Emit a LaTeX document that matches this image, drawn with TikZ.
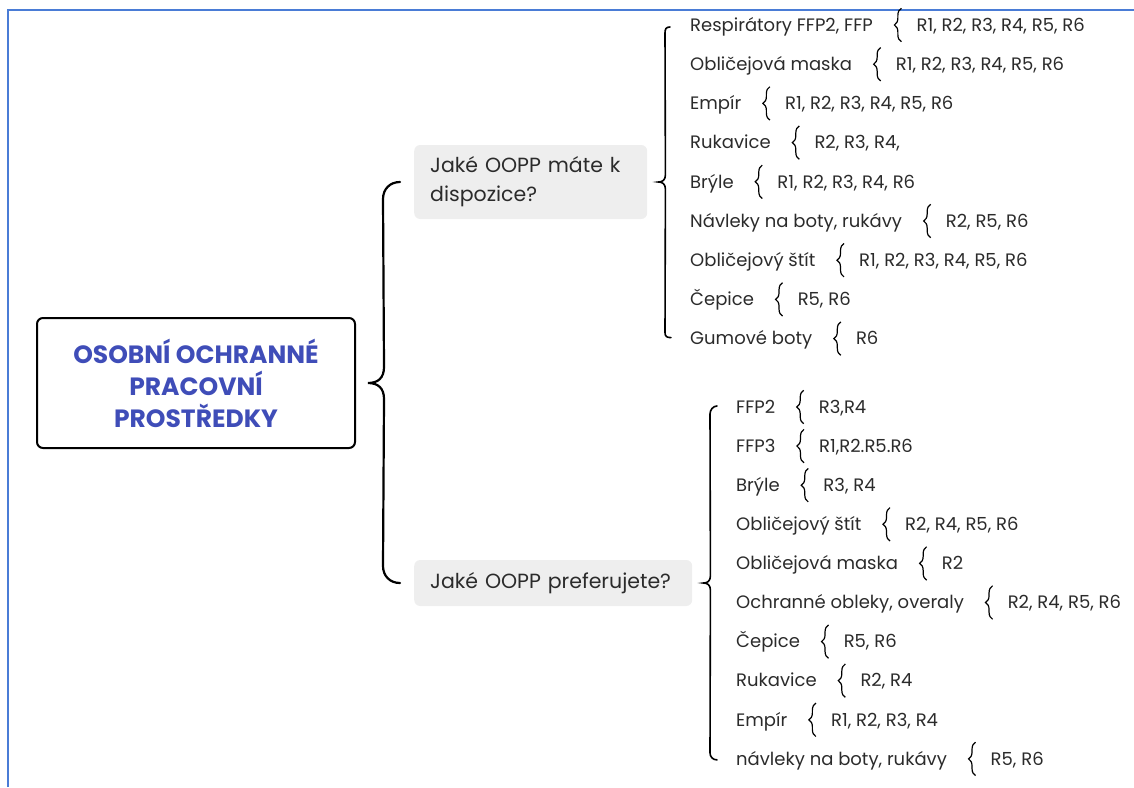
\documentclass[tikz,border=0pt]{standalone}
\usepackage{fontspec}
\setmainfont{Poppins}
\usetikzlibrary{positioning,decorations.pathreplacing}

\definecolor{frameblue}{HTML}{4A7CD6}
\definecolor{titleblue}{HTML}{3F4DB8}
\definecolor{ink}{HTML}{2B2B2B}
\definecolor{qgray}{HTML}{EEEEEE}

\tikzset{
  root/.style={draw=black, line width=2pt, rounded corners=6pt, minimum width=318pt,
    minimum height=130pt, align=center, text=titleblue, font=\fontsize{25}{32}\selectfont\bfseries},
  quest/.style={fill=qgray, rounded corners=6pt, anchor=west, inner xsep=16pt, inner ysep=0pt,
    align=left, text=ink, font=\fontsize{20.5}{29}\selectfont},
  item/.style={anchor=west, inner sep=0pt, text height=12.5pt, text depth=0pt, text=ink,
    font=\fontsize{18}{20}\selectfont},
  brc/.style={minimum width=8pt, minimum height=33pt, inner sep=0pt},
  sbrace/.style={decorate, decoration={brace, amplitude=7pt}, line width=1.2pt},
  link/.style={line width=2.2pt, line cap=round},
  sublink/.style={line width=1.6pt, line cap=round},
}

\begin{document}
\begin{tikzpicture}[x=1pt,y=-1pt]
  \useasboundingbox (0,0) rectangle (1134,787);
  \draw[frameblue, line width=2.5pt] (8,787) -- (8,10) -- (1134,10);

  \node[root] (root) at (196,383) {OSOBNÍ OCHRANNÉ\\PRACOVNÍ\\PROSTŘEDKY};
  \node[quest, text width=201pt, minimum height=74pt] (q1) at (414,182) {Jaké OOPP máte k\\dispozice?};
  \node[quest, text width=246pt, minimum height=46pt] (q2) at (414,583) {Jaké OOPP preferujete?};

  % big brace
  \coordinate (tip) at ([xshift=12pt]root.east);
  \draw[link] ([xshift=-14pt]q1.west) .. controls +(-10,0) and +(0,-10) .. ++(-17,17)
    -- ([shift={(16,-16)}]tip) .. controls +(0,11) and +(10,0) .. (tip)
    .. controls +(10,0) and +(0,-11) .. ([shift={(16,16)}]tip)
    -- ([shift={(-31,-17)}]q2.west) .. controls +(0,10) and +(-10,0) .. ([xshift=-14pt]q2.west);

  % what they have
  \foreach \txt/\val [count=\i] in {
    {Respirátory FFP2, FFP}/{R1, R2, R3, R4, R5, R6},
    {Obličejová maska}/{R1, R2, R3, R4, R5, R6},
    {Empír}/{R1, R2, R3, R4, R5, R6},
    {Rukavice}/{R2, R3, R4,},
    {Brýle}/{R1, R2, R3, R4, R6},
    {Návleky na boty, rukávy}/{R2, R5, R6},
    {Obličejový štít}/{R1, R2, R3, R4, R5, R6},
    {Čepice}/{R5, R6},
    {Gumové boty}/{R6}}{
    \node[item] (a\i) at (690,{25+39.2*(\i-1)}) {\txt};
    \node[brc, right=20pt of a\i] (ab\i) {};
    \draw[sbrace] (ab\i.south east) -- (ab\i.north east);
    \node[item, right=15pt of ab\i] (av\i) {\val};
  }
  \coordinate (t1) at ([xshift=11pt]q1.east);
  \draw[sublink] ([shift={(-20,2)}]a1.west) .. controls +(-4,0) and +(0,-4) .. ++(-5,6)
    -- ([shift={(7,-7)}]t1) .. controls +(0,5) and +(4,0) .. (t1)
    .. controls +(4,0) and +(0,-5) .. ([shift={(7,7)}]t1)
    -- ([shift={(-25,-6)}]a9.west) .. controls +(0,4) and +(-4,0) .. ([shift={(-19,-1)}]a9.west);

  % what they prefer
  \foreach \txt/\val [count=\i] in {
    {FFP2}/{R3,R4},
    {FFP3}/{R1,R2.R5.R6},
    {Brýle}/{R3, R4},
    {Obličejový štít}/{R2, R4, R5, R6},
    {Obličejová maska}/{R2},
    {Ochranné obleky, overaly}/{R2, R4, R5, R6},
    {Čepice}/{R5, R6},
    {Rukavice}/{R2, R4},
    {Empír}/{R1, R2, R3, R4},
    {návleky na boty, rukávy}/{R5, R6}}{
    \node[item] (b\i) at (736,{407+39.1*(\i-1)}) {\txt};
    \node[brc, right=20pt of b\i] (bb\i) {};
    \draw[sbrace] (bb\i.south east) -- (bb\i.north east);
    \node[item, right=15pt of bb\i] (bv\i) {\val};
  }
  \coordinate (t2) at ([xshift=11pt]q2.east);
  \draw[sublink] ([shift={(-19,-1)}]b1.west) .. controls +(-4,0) and +(0,-4) .. ++(-7,8)
    -- ([shift={(7,-7)}]t2) .. controls +(0,5) and +(4,0) .. (t2)
    .. controls +(4,0) and +(0,-5) .. ([shift={(7,7)}]t2)
    -- ([shift={(-26,-6)}]b10.west) .. controls +(0,4) and +(-4,0) .. ([shift={(-19,1)}]b10.west);
\end{tikzpicture}
\end{document}
